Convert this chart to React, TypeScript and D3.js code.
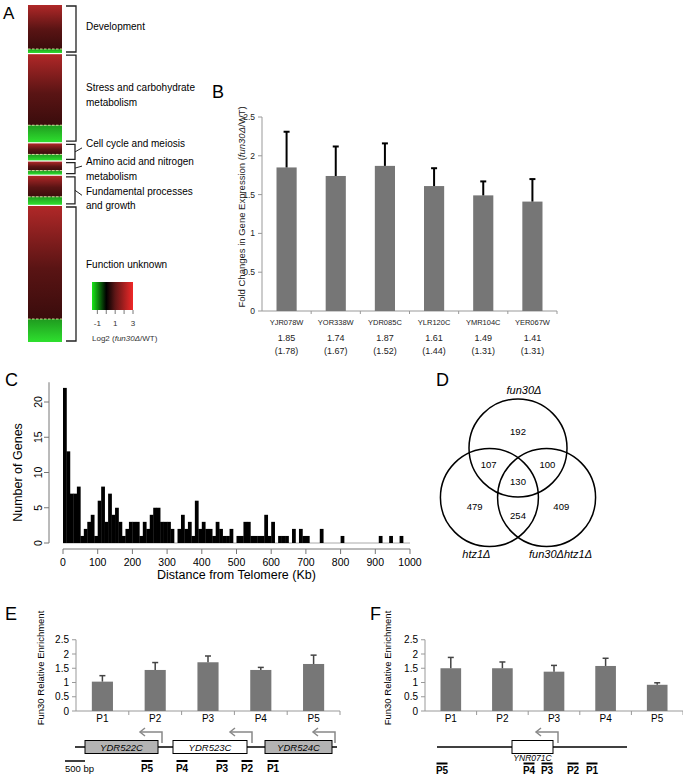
import React from "react";
import * as d3 from "d3";

const FONT = "'Liberation Sans', Arial, Helvetica, sans-serif";

// ---------- Panel A data ----------
const aCategories = [
  "Development",
  "Stress and carbohydrate metabolism",
  "Cell cycle and meiosis",
  "Amino acid and nitrogen metabolism",
  "Fundamental processes and growth",
  "Function unknown",
];
const aLabelLines = [
  ["Development"],
  ["Stress and carbohydrate", "metabolism"],
  ["Cell cycle and meiosis"],
  ["Amino acid and nitrogen", "metabolism"],
  ["Fundamental processes", "and growth"],
  ["Function unknown"],
];
const aUpGenes = [44, 71, 11, 9, 21, 113];
const aDownGenes = [4, 17, 6, 4, 8, 23];
const aLegendTicks = [-1, 0, 1, 2, 3];
const aLegendLabels = [-1, 1, 3];

// ---------- Panel B data ----------
const bGenes = ["YJR078W", "YOR338W", "YDR085C", "YLR120C", "YMR104C", "YER067W"];
const bFold = [1.85, 1.74, 1.87, 1.61, 1.49, 1.41];
const bSd = [0.46, 0.38, 0.29, 0.23, 0.18, 0.29];
const bMicroarray = [1.78, 1.67, 1.52, 1.44, 1.31, 1.31];
const bTicks = [0, 0.5, 1, 1.5, 2, 2.5];

// ---------- Panel C data ----------
const cBinKb = 10;
const cCounts = [
  22, 13, 7, 7, 8, 1, 2, 3, 4, 1,
  6, 8, 3, 7, 4, 5, 3, 1, 2, 3,
  3, 3, 1, 3, 2, 4, 5, 5, 3, 3,
  3, 2, 0, 2, 4, 2, 3, 1, 6, 2,
  3, 2, 2, 1, 3, 2, 1, 1, 2, 0,
  1, 1, 3, 3, 1, 1, 1, 1, 4, 1,
  3, 0, 1, 1, 1, 0, 2, 0, 2, 1,
  1, 0, 0, 0, 2, 0, 0, 0, 0, 0,
  1, 0, 0, 0, 0, 0, 0, 0, 0, 0,
  0, 1, 0, 0, 1, 0, 0, 1, 0, 0,
];
const cXTicks = [0, 100, 200, 300, 400, 500, 600, 700, 800, 900, 1000];
const cYTicks = [0, 5, 10, 15, 20];

// ---------- Panel D data ----------
const dSetNames = ["fun30Δ", "htz1Δ", "fun30Δhtz1Δ"];
// regions: only top, top∩left, top∩right, all, only left, left∩right, only right
const dRegionValues = [192, 107, 100, 130, 479, 254, 409];
const dRegionAngles = [-90, 210, -30, 0, 150, 90, 30];
const dRegionDist = [50, 34, 34, 0, 50, 34, 50];

// ---------- Panel E / F data ----------
const pNames = ["P1", "P2", "P3", "P4", "P5"];
const eValues = [1.03, 1.44, 1.71, 1.44, 1.65];
const eSd = [0.21, 0.26, 0.22, 0.09, 0.31];
const fValues = [1.5, 1.5, 1.38, 1.58, 0.92];
const fSd = [0.38, 0.22, 0.22, 0.27, 0.07];
const efTicks = [0, 0.5, 1, 1.5, 2, 2.5];

const eLengthBp = 6550;
const eGeneNames = ["YDR522C", "YDR523C", "YDR524C"];
const eGeneStart = [250, 2450, 4750];
const eGeneEnd = [2075, 4300, 6425];
const eGeneShaded = [true, false, true];
const eTss = [2175, 4425, 6500];
const ePrimerNames = ["P5", "P4", "P3", "P2", "P1"];
const ePrimerBp = [1800, 2675, 3675, 4300, 4950];

const fLengthBp = 4750;
const fGeneNames = ["YNR071C"];
const fGeneStart = [1875];
const fGeneEnd = [2900];
const fTss = [3025];
const fPrimerNames = ["P5", "P4", "P3", "P2", "P1"];
const fPrimerBp = [125, 2300, 2750, 3400, 3875];

const scaleBarBp = 500;

function ChipPanel({ x0, x1, values, sd, titleX }: any) {
  const x = d3.scaleBand().domain(pNames).range([x0, x1]).paddingInner(0).paddingOuter(0);
  const y = d3.scaleLinear().domain([0, 2.5]).range([711, 639.75]);
  const bw = x.bandwidth() * 0.4;
  return (
    <g>
      <line x1={x0} x2={x0} y1={y(0)} y2={y(2.5)} stroke="#999" />
      {efTicks.map((t) => (
        <g key={t}>
          <line x1={x0 - 4} x2={x0} y1={y(t)} y2={y(t)} stroke="#999" />
          <text x={x0 - 7} y={y(t) + 3.5} textAnchor="end" fontSize={10}>{t}</text>
        </g>
      ))}
      <line x1={x0} x2={x1} y1={y(0)} y2={y(0)} stroke="#999" />
      {pNames.map((p, i) => {
        const cx = (x(p) as number) + x.bandwidth() / 2;
        return (
          <g key={p}>
            <line x1={(x(p) as number) + x.bandwidth()} x2={(x(p) as number) + x.bandwidth()} y1={y(0)} y2={y(0) + 4} stroke="#999" />
            <rect x={cx - bw / 2} y={y(values[i])} width={bw} height={y(0) - y(values[i])} fill="#777" />
            <line x1={cx} x2={cx} y1={y(values[i])} y2={y(values[i] + sd[i])} stroke="#444" strokeWidth={1.5} />
            <line x1={cx - 3} x2={cx + 3} y1={y(values[i] + sd[i])} y2={y(values[i] + sd[i])} stroke="#444" strokeWidth={1.5} />
            <text x={cx} y={722} textAnchor="middle" fontSize={10}>{p}</text>
          </g>
        );
      })}
      <text transform={`translate(${titleX},668) rotate(-90)`} textAnchor="middle" fontSize={9.5}>Fun30 Relative Enrichment</text>
    </g>
  );
}

function Arrow({ xs, xe, yTop, yBase }: any) {
  return (
    <g stroke="#888" strokeWidth={1.5} fill="none">
      <path d={`M${xs},${yBase} V${yTop} H${xe}`} />
      <path d={`M${xe + 5},${yTop - 4} L${xe},${yTop} L${xe + 5},${yTop + 4}`} />
    </g>
  );
}

export default function App() {
  // ----- Panel A -----
  const aTotal = d3.sum(aUpGenes) + d3.sum(aDownGenes);
  const aGap = 1.2;
  const aY = d3.scaleLinear().domain([0, aTotal]).range([5, 342 - aGap * (aUpGenes.length - 1)]);
  let cum = 0;
  const aSegs = aUpGenes.map((u, i) => {
    const top = aY(cum) + i * aGap;
    const mid = aY(cum + u) + i * aGap;
    cum += u + aDownGenes[i];
    const bot = aY(cum) + i * aGap;
    return { top, mid, bot };
  });
  const aLabelDy = [-3, -3, -8, 1, 8, -10];
  const aSmall = [false, false, true, true, true, false];
  const legX = d3.scaleLinear().domain([-1.6, 3]).range([92, 133]);
  const legColor = d3.scaleLinear<string>().domain([-1.6, 0, 1, 3]).range(["#18e818", "#000000", "#5e1616", "#f02828"]);
  const legStops = d3.range(-1.6, 3.01, 0.2);

  // ----- Panel B -----
  const bx = d3.scaleBand().domain(bGenes).range([262, 557]);
  const by = d3.scaleLinear().domain([0, 2.5]).range([311, 117]);
  const bBar = bx.bandwidth() * 0.41;

  // ----- Panel C -----
  const cx = d3.scaleLinear().domain([0, 1000]).range([63, 410]);
  const cy = d3.scaleLinear().domain([0, 20]).range([543, 402]);

  // ----- Panel D -----
  const dG = { x: 518, y: 481 };
  const dD = 33;
  const dR = 49;
  const dCenters = [-90, 150, 30].map((a) => ({
    x: dG.x + dD * Math.cos((a * Math.PI) / 180),
    y: dG.y + dD * Math.sin((a * Math.PI) / 180),
  }));

  // ----- E / F diagrams -----
  const ebp = d3.scaleLinear().domain([0, eLengthBp]).range([75, 75 + eLengthBp * 0.04]);
  const fbp = d3.scaleLinear().domain([0, fLengthBp]).range([437, 437 + fLengthBp * 0.04]);
  const lineY = 747;

  return (
    <svg width={683} height={775} style={{ position: "absolute", left: 0, top: 0, background: "#fff" }} fontFamily={FONT}>
      <defs>
        <linearGradient id="redG" x1="0" y1="0" x2="0" y2="1">
          <stop offset="0" stopColor="#b02828" />
          <stop offset="0.55" stopColor="#5a1414" />
          <stop offset="1" stopColor="#3a0c0c" />
        </linearGradient>
        <linearGradient id="greenG" x1="0" y1="0" x2="0" y2="1">
          <stop offset="0" stopColor="#1f9a1f" />
          <stop offset="1" stopColor="#2ee02e" />
        </linearGradient>
        <linearGradient id="legG" x1="0" y1="0" x2="1" y2="0">
          {legStops.map((v) => (
            <stop key={v} offset={(legX(v) - 92) / 41} stopColor={legColor(v)} />
          ))}
        </linearGradient>
      </defs>

      {/* ===== Panel A ===== */}
      <text x={3} y={19} fontSize={17}>A</text>
      {aSegs.map((s, i) => (
        <g key={i}>
          <rect x={28} y={s.top} width={34} height={s.mid - s.top} fill="url(#redG)" />
          <rect x={28} y={s.mid} width={34} height={s.bot - s.mid} fill="url(#greenG)" />
          <line x1={28} x2={62} y1={s.mid} y2={s.mid} stroke="#f2f2b0" strokeWidth={0.8} strokeDasharray="2.5,1.5" />
        </g>
      ))}
      {aSegs.map((s, i) => {
        const mid = (s.top + s.bot) / 2;
        const ly = mid + aLabelDy[i];
        const lines = aLabelLines[i];
        const bx0 = aSmall[i] ? 75 : 76;
        return (
          <g key={"br" + i}>
            <path d={`M66,${s.top + 1} H${bx0} V${s.bot - 1} H66`} fill="none" stroke="#222" strokeWidth={1.3} />
            {aSmall[i] && <line x1={bx0} y1={mid} x2={82} y2={ly + (lines.length - 1) * -7 + 4} stroke="#222" strokeWidth={1} />}
            <text fontSize={10} x={86}>
              {lines.map((l, k) => (
                <tspan key={k} x={86} y={ly + 3.5 + (k - (lines.length - 1) / 2) * 14.5}>{l}</tspan>
              ))}
            </text>
          </g>
        );
      })}
      <rect x={92} y={282} width={41} height={28} fill="url(#legG)" />
      {aLegendTicks.map((t) => (
        <line key={t} x1={legX(t)} x2={legX(t)} y1={310} y2={314} stroke="#555" strokeWidth={0.8} />
      ))}
      {aLegendLabels.map((t) => (
        <text key={t} x={legX(t)} y={326} fontSize={8} textAnchor="middle" fill="#333">{t}</text>
      ))}
      <text x={92} y={341} fontSize={8} fill="#333">
        Log2 (<tspan fontStyle="italic">fun30Δ</tspan>/WT)
      </text>

      {/* ===== Panel B ===== */}
      <text x={212} y={98} fontSize={18}>B</text>
      <line x1={262} x2={262} y1={by(0)} y2={by(2.5)} stroke="#999" />
      {bTicks.map((t) => (
        <g key={t}>
          <line x1={258} x2={262} y1={by(t)} y2={by(t)} stroke="#999" />
          <text x={255} y={by(t) + 3} fontSize={8.5} textAnchor="end" fill="#222">{t}</text>
        </g>
      ))}
      <line x1={262} x2={557} y1={by(0)} y2={by(0)} stroke="#999" />
      {bGenes.map((g, i) => {
        const c = (bx(g) as number) + bx.bandwidth() / 2;
        const right = (bx(g) as number) + bx.bandwidth();
        return (
          <g key={g}>
            <line x1={right} x2={right} y1={by(0)} y2={by(0) + 3} stroke="#999" />
            <rect x={c - bBar / 2} y={by(bFold[i])} width={bBar} height={by(0) - by(bFold[i])} fill="#767676" />
            <line x1={c} x2={c} y1={by(bFold[i])} y2={by(bFold[i] + bSd[i])} stroke="#000" strokeWidth={2} />
            <line x1={c - 3} x2={c + 3} y1={by(bFold[i] + bSd[i])} y2={by(bFold[i] + bSd[i])} stroke="#000" strokeWidth={2} />
            <text x={c} y={325} fontSize={7.5} textAnchor="middle" fill="#222">{g}</text>
            <text x={c} y={340.5} fontSize={9} textAnchor="middle" fill="#222">{bFold[i].toFixed(2)}</text>
            <text x={c} y={354} fontSize={9} textAnchor="middle" fill="#222">({bMicroarray[i].toFixed(2)})</text>
          </g>
        );
      })}
      <text transform="translate(245,207) rotate(-90)" fontSize={9.5} textAnchor="middle" fill="#222">
        Fold Changes in Gene Expression (<tspan fontStyle="italic">fun30Δ</tspan>/WT)
      </text>

      {/* ===== Panel C ===== */}
      <text x={5} y={386} fontSize={18}>C</text>
      <line x1={cx(0)} x2={cx(1000)} y1={cy(0)} y2={cy(0)} stroke="#aaa" />
      {cCounts.map((v, i) =>
        v > 0 ? (
          <rect key={i} x={cx(i * cBinKb)} y={cy(v)} width={cx((i + 1) * cBinKb) - cx(i * cBinKb) + 0.3} height={cy(0) - cy(v)} fill="#000" />
        ) : null
      )}
      <line x1={cx(0)} x2={cx(1000)} y1={549} y2={549} stroke="#777" />
      {cXTicks.map((t) => (
        <g key={t}>
          <line x1={cx(t)} x2={cx(t)} y1={549} y2={554} stroke="#777" />
          <text x={cx(t)} y={566} fontSize={10.5} textAnchor="middle">{t}</text>
        </g>
      ))}
      <line x1={49} x2={49} y1={cy(0)} y2={cy(22.8)} stroke="#777" />
      {cYTicks.map((t) => (
        <g key={t}>
          <line x1={44} x2={49} y1={cy(t)} y2={cy(t)} stroke="#777" />
          <text transform={`translate(42,${cy(t)}) rotate(-90)`} fontSize={10.5} textAnchor="middle">{t}</text>
        </g>
      ))}
      <text x={(cx(0) + cx(1000)) / 2} y={579} fontSize={12.5} textAnchor="middle">Distance from Telomere (Kb)</text>
      <text transform={`translate(22,${(cy(0) + cy(20)) / 2}) rotate(-90)`} fontSize={12.5} textAnchor="middle">Number of Genes</text>

      {/* ===== Panel D ===== */}
      <text x={436} y={386} fontSize={18}>D</text>
      {dCenters.map((c, i) => (
        <circle key={i} cx={c.x} cy={c.y} r={dR} fill="none" stroke="#000" strokeWidth={1.5} />
      ))}
      {dRegionValues.map((v, i) => (
        <text key={i} x={dG.x + dRegionDist[i] * Math.cos((dRegionAngles[i] * Math.PI) / 180)} y={dG.y + dRegionDist[i] * Math.sin((dRegionAngles[i] * Math.PI) / 180) + 3.5} fontSize={9.5} textAnchor="middle">
          {v}
        </text>
      ))}
      <text x={dCenters[0].x + 6} y={dCenters[0].y - dR - 5} fontSize={11} fontStyle="italic" textAnchor="middle">{dSetNames[0]}</text>
      <text x={dCenters[1].x - 13} y={dCenters[1].y + dR + 11} fontSize={11} fontStyle="italic" textAnchor="middle">{dSetNames[1]}</text>
      <text x={dCenters[2].x + 14} y={dCenters[2].y + dR + 11} fontSize={11} fontStyle="italic" textAnchor="middle">{dSetNames[2]}</text>

      {/* ===== Panel E ===== */}
      <text x={5} y={620} fontSize={18}>E</text>
      <ChipPanel x0={76} x1={340} values={eValues} sd={eSd} titleX={44} />
      <line x1={ebp(0)} x2={ebp(eLengthBp)} y1={lineY} y2={lineY} stroke="#000" strokeWidth={1.3} />
      {eGeneNames.map((g, i) => (
        <g key={g}>
          <rect x={ebp(eGeneStart[i])} y={lineY - 6.5} width={ebp(eGeneEnd[i]) - ebp(eGeneStart[i])} height={13} fill={eGeneShaded[i] ? "#b3b3b3" : "#fff"} stroke="#000" strokeWidth={1} />
          <text x={(ebp(eGeneStart[i]) + ebp(eGeneEnd[i])) / 2} y={lineY + 3.5} fontSize={9.5} fontStyle="italic" textAnchor="middle">{g}</text>
          <Arrow xs={ebp(eTss[i])} xe={ebp(eTss[i]) - 22} yTop={lineY - 15} yBase={lineY - 4} />
        </g>
      ))}
      <line x1={ebp(0) - 10} x2={ebp(0) - 10 + scaleBarBp * 0.04} y1={761} y2={761} stroke="#000" strokeWidth={1.5} />
      <text x={ebp(0) - 10} y={772} fontSize={9.5}>500 bp</text>
      {ePrimerNames.map((p, i) => (
        <g key={p}>
          <line x1={ebp(ePrimerBp[i]) - 5.5} x2={ebp(ePrimerBp[i]) + 5.5} y1={761} y2={761} stroke="#000" strokeWidth={2} />
          <text x={ebp(ePrimerBp[i])} y={772} fontSize={10} fontWeight="bold" textAnchor="middle">{p}</text>
        </g>
      ))}

      {/* ===== Panel F ===== */}
      <text x={370} y={620} fontSize={18}>F</text>
      <ChipPanel x0={425} x1={683} values={fValues} sd={fSd} titleX={391} />
      <line x1={fbp(0)} x2={fbp(fLengthBp)} y1={lineY} y2={lineY} stroke="#000" strokeWidth={1.3} />
      {fGeneNames.map((g, i) => (
        <g key={g}>
          <rect x={fbp(fGeneStart[i])} y={lineY - 6.5} width={fbp(fGeneEnd[i]) - fbp(fGeneStart[i])} height={13} fill="#fff" stroke="#000" strokeWidth={1} />
          <text x={(fbp(fGeneStart[i]) + fbp(fGeneEnd[i])) / 2} y={lineY + 14} fontSize={8.5} fontStyle="italic" textAnchor="middle">{g}</text>
          <Arrow xs={fbp(fTss[i])} xe={fbp(fTss[i]) - 22} yTop={lineY - 15} yBase={lineY - 4} />
        </g>
      ))}
      {fPrimerNames.map((p, i) => (
        <g key={p}>
          <line x1={fbp(fPrimerBp[i]) - 5.5} x2={fbp(fPrimerBp[i]) + 5.5} y1={763.5} y2={763.5} stroke="#000" strokeWidth={2} />
          <text x={fbp(fPrimerBp[i])} y={774} fontSize={10} fontWeight="bold" textAnchor="middle">{p}</text>
        </g>
      ))}
    </svg>
  );
}
